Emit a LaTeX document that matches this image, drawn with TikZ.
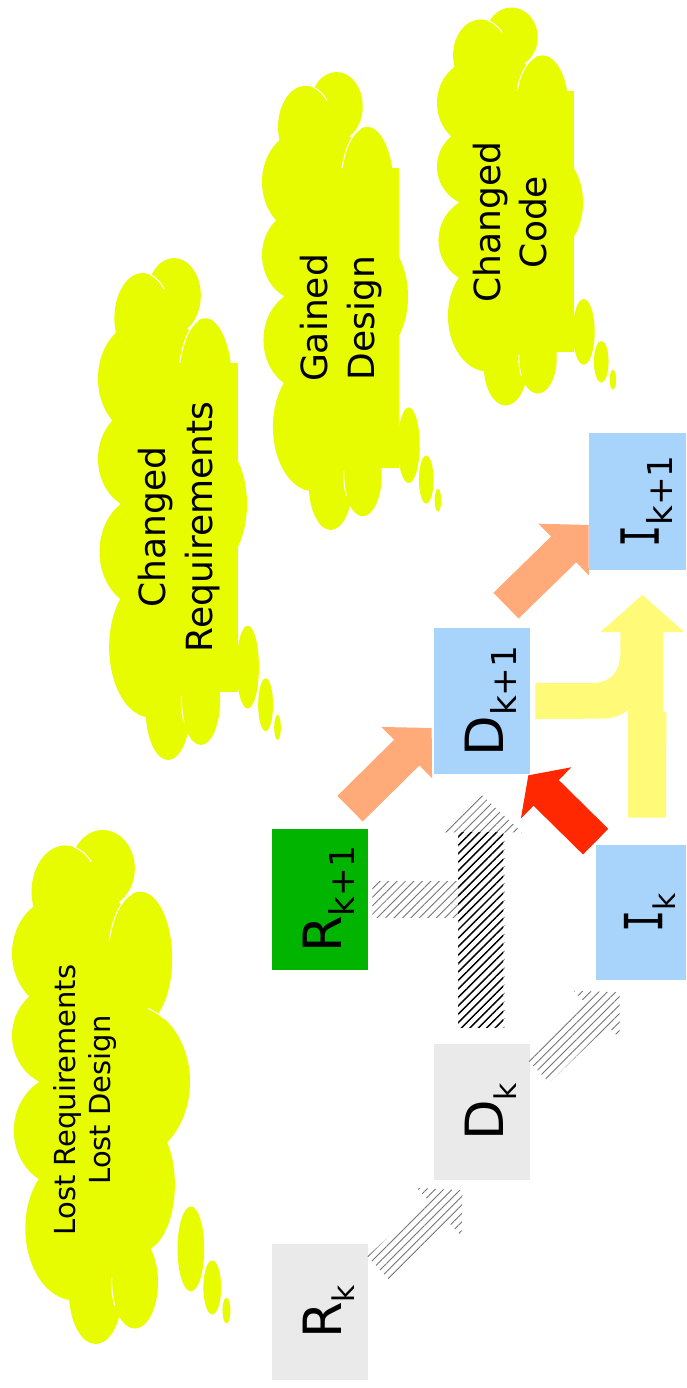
\documentclass[tikz,border=0pt]{standalone}
\usepackage{fontspec}
\setmainfont{DejaVu Sans}
\newfontfamily\barfont{DejaVu Sans Mono}
\usepackage{graphicx}
\usepackage{tikz}
\usetikzlibrary{calc,patterns.meta,positioning}
\definecolor{puff}{RGB}{232,252,0}
\definecolor{oldbox}{RGB}{234,234,234}
\definecolor{reqgreen}{RGB}{0,180,0}
\definecolor{newblue}{RGB}{168,212,252}
\definecolor{salmon}{RGB}{255,170,120}
\definecolor{hotred}{RGB}{255,40,0}
\definecolor{paleyellow}{RGB}{255,250,120}
\newcommand\ksub[0]{\fontsize{17}{17}\selectfont k}
\newcommand\knext[0]{\fontsize{19.5}{20}\selectfont k+1}
\newcommand\barI[0]{{\barfont\scalebox{0.7}[1]{I}}}
\newcommand\stage[2]{\hspace{0.36cm}\rotatebox{90}{\fontsize{30}{30}\selectfont #1\raisebox{-0.27cm}{#2}}}
\newcommand\puffrect[0]{\fill[puff] (-0.5,-0.58) rectangle (0.88,0.73);}
\newcommand\thought[5][]{%
    \begin{scope}[shift={(#2,#3)}, xscale=#4, yscale=#5]
        \foreach \u/\v/\ru/\rv in {0/0/.7/.75, .02/-.85/.36/.15, -.4/-.76/.38/.18,
            -.45/-.52/.55/.22, .44/-.5/.36/.26, -.45/-.2/.55/.2, .32/-.02/.68/.3,
            -.4/.17/.58/.22, .45/.38/.38/.26, -.3/.55/.55/.28, -.06/.8/.3/.2,
            .38/.76/.26/.18, 1.01/.63/.15/.165, 1.25/.78/.1/.105, 1.41/.87/.045/.05}
            \fill[puff] (\u,\v) ellipse [x radius=\ru, y radius=\rv];
        \foreach \u/\v/\ru/\rv/\a/\b in {.44/-.5/.36/.26/195/255, -.4/-.76/.38/.18/285/320,
            .32/-.02/.68/.3/288/305, .38/.76/.26/.18/150/185}
            \draw[white, line width=0.6pt] (\u,\v) ++({\ru*cos(\a)},{\rv*sin(\a)})
                arc [start angle=\a, end angle=\b, x radius=\ru, y radius=\rv];
        #1
    \end{scope}}
\newcommand\fatarrow[6][]{%
    \coordinate (fa-b) at ($(#3)!#6!(#2)$);
    \path[#1] ($(#2)!#4!90:(#3)$) -- ($(fa-b)!#4!-90:(#2)$) -- ($(fa-b)!#5!-90:(#2)$) -- (#3)
        -- ($(fa-b)!#5!90:(#2)$) -- ($(fa-b)!#4!90:(#2)$) -- ($(#2)!#4!-90:(#3)$) -- cycle;}

\begin{document}
\begin{tikzpicture}[x=0.02cm, y=-0.02cm,
    stagebox/.style={rectangle, inner sep=0pt, minimum width=1.92cm, minimum height=2.72cm},
    note/.style={rotate=90, align=center, inner sep=0pt, font=\fontsize{20.5}{26.5}\selectfont},
    hatchlight/.style={pattern={Lines[angle=45, distance=3.4pt, line width=0.5pt]}, pattern color=black!55},
    hatchdark/.style={pattern={Lines[angle=45, distance=3.4pt, line width=0.8pt]}, pattern color=black}]
    \fill[white] (0,0) rectangle (686,1388);
    \useasboundingbox (0,0) rectangle (686,1388);

    \thought{101}{1087}{89}{257}
    \thought[\puffrect]{172.5}{509}{74.5}{251}
    \thought[\puffrect]{335}{301}{73}{229}
    \thought[\puffrect]{510}{206.5}{73}{199}
    \node[note, font=\fontsize{16.5}{20}\selectfont] (lost) at (85,1100) {Lost Requirements\\Lost Design};
    \node[note] (creq) at (179,527) {Changed\\Requirements};
    \node[note] (gdes) at (341,318) {Gained\\Design};
    \node[note] (ccode) at (510,222) {Changed\\Code};

    \node[stagebox, fill=oldbox] (rk) at (320,1312) {\stage{R}{\ksub}};
    \node[stagebox, fill=oldbox] (dk) at (482,1112) {\stage{D}{\ksub}};
    \node[stagebox, fill=reqgreen, minimum height=2.82cm] (rk1) at (320,899.5) {\stage{R}{\knext}};
    \node[stagebox, fill=newblue, minimum height=2.92cm] (dk1) at (482,701) {\stage{D}{\knext}};
    \node[stagebox, fill=newblue, minimum width=1.8cm, minimum height=2.7cm] (ik) at (641,912.5) {\stage{\barI}{\ksub}};
    \node[stagebox, fill=newblue, minimum width=1.94cm, minimum height=2.74cm] (ik1) at (637.5,501.5) {\stage{\barI}{\knext}};

    \coordinate (rk-out) at ($(rk.east)+(10,-44)$);
    \coordinate (dk-in) at ($(dk.south west)+(29,10)$);
    \coordinate (dk-out) at ($(dk.east)+(8,-41)$);
    \coordinate (ik-in) at ($(ik.south west)+(24,12)$);
    \coordinate (dk-up) at ($(dk.north)+(0,-16)$);
    \coordinate (dk1-in) at ($(dk1.south)+(0,21)$);
    \coordinate (rk1-out) at ($(rk1.north)+(30,-20)$);
    \coordinate (dk1-left) at ($(dk1.west)+(-2,27)$);
    \coordinate (dk1-out) at ($(dk1.north)+(24,-22)$);
    \coordinate (ik1-in) at ($(ik1.west)+(0,23.5)$);
    \coordinate (ik-out) at ($(ik.north west)+(0,-3)$);
    \coordinate (dk1-right) at ($(dk1.south east)+(-2,1)$);

    \fatarrow[hatchlight]{rk-out}{dk-in}{0.32cm}{0.66cm}{0.64cm}
    \fatarrow[hatchlight]{dk-out}{ik-in}{0.32cm}{0.66cm}{0.64cm}
    \fill[hatchlight] ($(rk1.east)+(4,-18)$) rectangle ++(104,36);
    \fatarrow[hatchlight]{dk-up}{dk1-in}{0.45cm}{0.8cm}{0.74cm}
    \fill[hatchdark] ($(dk.north)+(-24,-16)$) rectangle ($(dk1.south)+(21,58)$);

    \fatarrow[fill=salmon]{rk1-out}{dk1-left}{0.36cm}{0.72cm}{0.7cm}
    \fatarrow[fill=salmon]{dk1-out}{ik1-in}{0.36cm}{0.72cm}{0.7cm}
    \fatarrow[fill=hotred]{ik-out}{dk1-right}{0.36cm}{0.72cm}{0.5cm}
    \fill[paleyellow] ($(dk1.east)+(5,-18)$) -- ++(55,0)
        .. controls +(22,0) and +(0,22) .. ++(30,-33)
        -- ++(0,-18) -- ++(-20,0) -- ++(42,-37) -- ++(42,37) -- ++(-21,0)
        -- ++(0,80) -- ++(3,0) -- ($(ik.north)+(25,-27)$) -- ++(-38,0) -- ++(0,-108)
        .. controls +(-8,7) and +(12,0) .. ++(-28,9) -- ($(dk1.east)+(5,18)$) -- cycle;
\end{tikzpicture}
\end{document}
